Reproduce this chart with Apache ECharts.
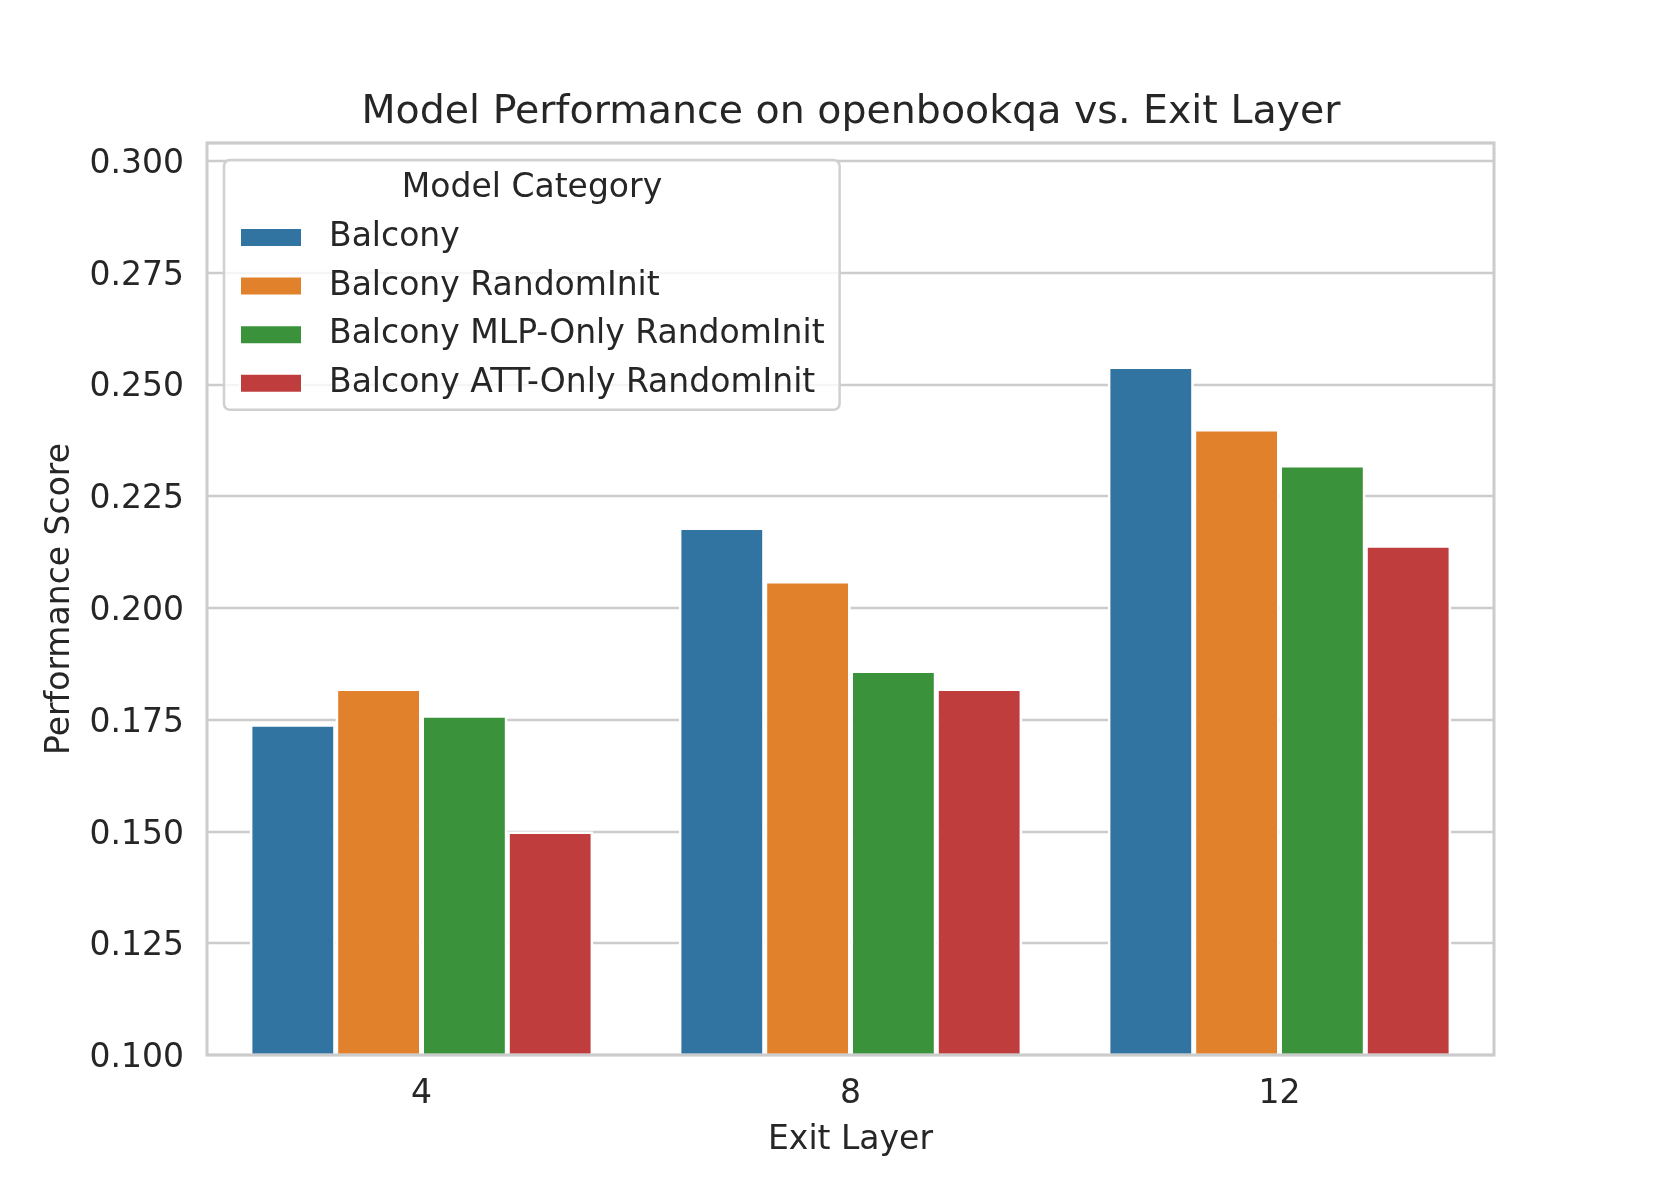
<!DOCTYPE html>
<html>
<head>
<meta charset="utf-8">
<script src="https://cdn.jsdelivr.net/npm/echarts@6/dist/echarts.min.js"></script>
<style>
html,body{margin:0;padding:0;background:#ffffff;}
#chart{width:1661px;height:1186px;}
</style>
</head>
<body>
<div id="chart"></div>
<script>
var categories = ['4', '8', '12'];
var seriesNames = ['Balcony', 'Balcony RandomInit', 'Balcony MLP-Only RandomInit', 'Balcony ATT-Only RandomInit'];
var balcony = [0.174, 0.218, 0.254];
var balconyRandomInit = [0.182, 0.206, 0.240];
var balconyMlpOnly = [0.176, 0.186, 0.232];
var balconyAttOnly = [0.150, 0.182, 0.214];
var colors = ['#3274a1', '#e1812c', '#3a923a', '#c03d3e'];
var yMin = 0.1, yMax = 0.304, yInterval = 0.025;

var values = [balcony, balconyRandomInit, balconyMlpOnly, balconyAttOnly];
var FONT = 'DejaVu Sans';
var TXT = '#262626';

var chart = echarts.init(document.getElementById('chart'));
var series = seriesNames.map(function (name, i) {
  return {
    name: name,
    type: 'bar',
    data: values[i],
    barGap: '0%',
    barCategoryGap: '20%',
    itemStyle: { color: colors[i], borderColor: '#ffffff', borderWidth: 2.5 },
    emphasis: { disabled: true },
    z: 2
  };
});

chart.setOption({
  animation: false,
  backgroundColor: '#ffffff',
  textStyle: { fontFamily: FONT, color: TXT },
  title: [
    {
      text: 'Model Performance on openbookqa vs. Exit Layer',
      left: 851, top: 93, padding: 0, textAlign: 'center',
      textStyle: { fontFamily: FONT, fontSize: 39.5, fontWeight: 'normal', color: TXT }
    },
    {
      text: 'Model Category',
      left: 532, top: 172, padding: 0, textAlign: 'center', z: 20,
      textStyle: { fontFamily: FONT, fontSize: 33, fontWeight: 'normal', color: TXT }
    }
  ],
  legend: {
    orient: 'vertical',
    left: 224, top: 160,
    padding: [61, 15, 10, 15],
    itemWidth: 62, itemHeight: 19,
    itemGap: 15.6,
    backgroundColor: 'rgba(255,255,255,0.8)',
    borderColor: '#d0d0d0', borderWidth: 2.5, borderRadius: 6,
    z: 15,
    selectedMode: false,
    textStyle: { fontFamily: FONT, fontSize: 33, lineHeight: 33, color: TXT, padding: [0, 0, 0, 22] },
    data: seriesNames.map(function (n) { return { name: n, icon: 'rect' }; })
  },
  grid: {
    left: 207, right: 167, top: 143, bottom: 131,
    show: true, borderColor: '#cccccc', borderWidth: 3, z: 10,
    backgroundColor: 'transparent'
  },
  xAxis: {
    type: 'category',
    data: categories,
    name: 'Exit Layer',
    nameLocation: 'middle',
    nameGap: 69,
    nameTextStyle: { fontFamily: FONT, fontSize: 33, color: TXT },
    axisLine: { show: false },
    axisTick: { show: false },
    axisLabel: { margin: 23, fontFamily: FONT, fontSize: 33, color: TXT },
    splitLine: { show: false }
  },
  yAxis: {
    type: 'value',
    min: yMin, max: yMax, interval: yInterval,
    name: 'Performance Score',
    nameLocation: 'middle',
    nameGap: 130,
    nameTextStyle: { fontFamily: FONT, fontSize: 33, color: TXT },
    axisLine: { show: false },
    axisTick: { show: false },
    axisLabel: {
      margin: 23, fontFamily: FONT, fontSize: 33, color: TXT, showMaxLabel: false,
      verticalAlign: 'top', lineHeight: 7,
      formatter: function (v) { return v.toFixed(3); }
    },
    splitLine: { show: true, lineStyle: { color: '#cccccc', width: 2.3 } }
  },
  series: series
});
</script>
</body>
</html>
